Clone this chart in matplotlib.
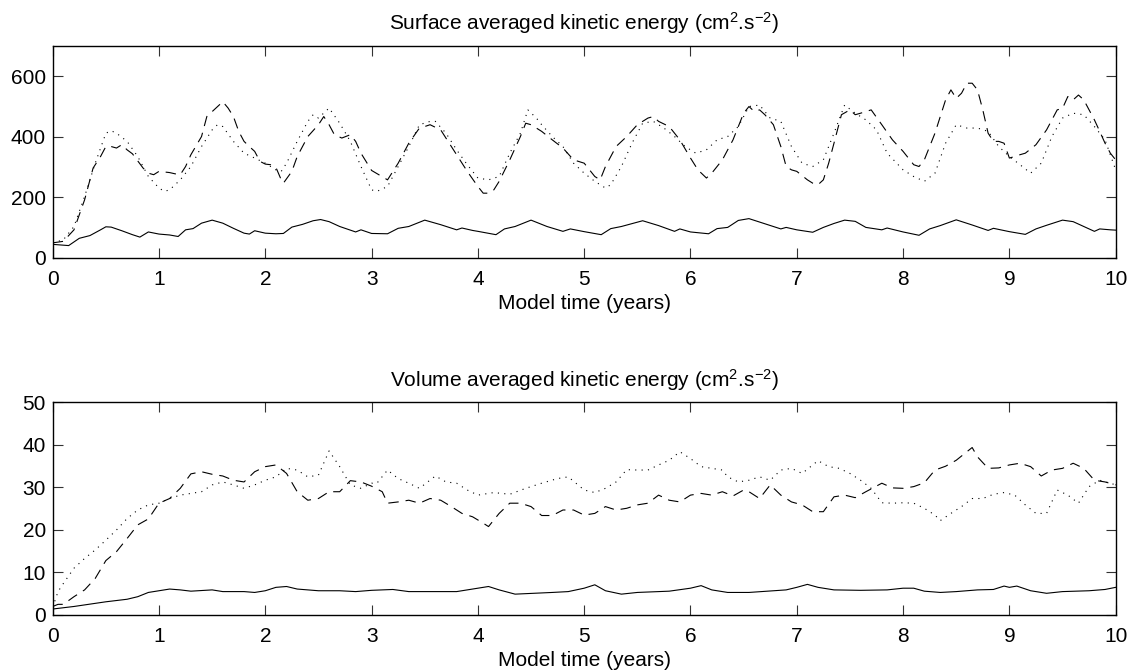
import matplotlib
matplotlib.use("Agg")
import matplotlib.pyplot as plt

# Surface averaged kinetic energy
surf_solid_t = [0, 0.15, 0.25, 0.35, 0.45, 0.5, 0.55, 0.65, 0.75, 0.82, 0.9, 1.0, 1.1, 1.18, 1.25, 1.32,
                1.4, 1.5, 1.6, 1.7, 1.8, 1.85, 1.9, 2.0, 2.1, 2.17, 2.25, 2.35, 2.45, 2.52, 2.6, 2.7,
                2.8, 2.85, 2.9, 3.0, 3.15, 3.25, 3.35, 3.5, 3.65, 3.8, 3.85, 3.95, 4.0, 4.17, 4.25,
                4.35, 4.5, 4.65, 4.8, 4.87, 5.0, 5.16, 5.25, 5.35, 5.55, 5.7, 5.85, 5.9, 6.0, 6.17,
                6.25, 6.35, 6.45, 6.55, 6.7, 6.85, 6.9, 7.0, 7.15, 7.25, 7.35, 7.45, 7.55, 7.65, 7.8,
                7.85, 8.0, 8.15, 8.25, 8.35, 8.5, 8.65, 8.8, 8.85, 9.0, 9.15, 9.25, 9.35, 9.5, 9.6,
                9.7, 9.8, 9.85, 9.95, 10.0]
surf_solid = [45, 41, 65, 74, 93, 103, 102, 90, 77, 69, 86, 79, 76, 71, 93, 97,
              115, 125, 115, 98, 82, 79, 90, 82, 80, 81, 102, 111, 123, 127, 120, 104,
              92, 86, 93, 81, 80, 98, 104, 125, 110, 93, 99, 91, 88, 77, 96,
              104, 125, 104, 88, 96, 87, 77, 97, 104, 123, 107, 88, 96, 86, 80,
              97, 101, 124, 130, 113, 96, 101, 93, 85, 101, 114, 125, 121, 101, 93,
              99, 86, 75, 96, 107, 126, 109, 91, 98, 87, 78, 96, 108, 125, 120,
              104, 88, 96, 93, 92]

surf_dash_t = [0, 0.1, 0.2, 0.3, 0.38, 0.45, 0.5, 0.55, 0.6, 0.65, 0.7, 0.75, 0.85, 0.9, 0.95, 1.0,
               1.1, 1.15, 1.2, 1.25, 1.3, 1.4, 1.45, 1.55, 1.6, 1.65, 1.7, 1.75, 1.8, 1.85, 1.9,
               1.95, 2.0, 2.05, 2.1, 2.15, 2.17, 2.25, 2.3, 2.4, 2.5, 2.55, 2.6, 2.65, 2.72, 2.8,
               2.85, 2.9, 3.0, 3.15, 3.25, 3.35, 3.45, 3.5, 3.55, 3.65, 3.75, 3.82, 3.9, 4.0, 4.05,
               4.1, 4.15, 4.2, 4.3, 4.4, 4.45, 4.5, 4.55, 4.6, 4.7, 4.8, 4.9, 5.0, 5.1, 5.15, 5.2,
               5.3, 5.4, 5.5, 5.6, 5.65, 5.7, 5.8, 5.9, 6.0, 6.07, 6.15, 6.2, 6.3, 6.4, 6.5, 6.55,
               6.6, 6.65, 6.7, 6.78, 6.85, 6.9, 6.95, 7.0, 7.1, 7.15, 7.2, 7.25, 7.3, 7.35, 7.42,
               7.5, 7.55, 7.6, 7.7, 7.8, 7.9, 8.0, 8.1, 8.15, 8.2, 8.3, 8.4, 8.45, 8.5, 8.55, 8.6,
               8.65, 8.7, 8.75, 8.8, 8.85, 8.9, 8.95, 9.0, 9.05, 9.1, 9.15, 9.25, 9.35, 9.45, 9.5,
               9.55, 9.6, 9.65, 9.7, 9.75, 9.8, 9.85, 9.9, 9.95, 10.0]
surf_dash = [50, 55, 93, 192, 297, 335, 368, 368, 363, 374, 357, 344, 297, 280, 275, 286,
             282, 278, 275, 302, 341, 401, 467, 500, 516, 495, 467, 418, 385, 368, 352,
             319, 310, 308, 299, 258, 247, 286, 335, 401, 440, 467, 440, 407, 396, 407,
             385, 346, 289, 258, 313, 379, 429, 434, 440, 423, 368, 330, 286, 236, 214,
             214, 225, 253, 324, 401, 445, 440, 429, 418, 390, 363, 324, 313, 269, 258, 302,
             368, 401, 440, 462, 467, 451, 434, 390, 330, 291, 264, 280, 324, 390, 478, 500,
             484, 489, 473, 440, 368, 302, 291, 286, 258, 247, 242, 258, 313, 379, 473,
             489, 473, 478, 489, 440, 390, 352, 308, 302, 324, 412, 522, 555, 527, 544, 577,
             577, 555, 489, 412, 385, 385, 379, 330, 335, 341, 346, 374, 423, 489, 494,
             533, 522, 538, 522, 489, 456, 418, 379, 346, 324]

surf_dot_t = [0, 0.1, 0.2, 0.3, 0.4, 0.5, 0.55, 0.6, 0.7, 0.8, 0.9, 1.0, 1.05, 1.1, 1.2, 1.3, 1.4,
              1.5, 1.55, 1.6, 1.7, 1.8, 1.9, 2.0, 2.1, 2.15, 2.2, 2.3, 2.4, 2.45, 2.5, 2.6, 2.7,
              2.8, 2.9, 3.0, 3.05, 3.15, 3.25, 3.35, 3.45, 3.55, 3.6, 3.7, 3.8, 3.9, 4.0, 4.1,
              4.2, 4.3, 4.4, 4.47, 4.55, 4.6, 4.7, 4.8, 4.9, 5.0, 5.1, 5.2, 5.25, 5.35, 5.45,
              5.55, 5.65, 5.75, 5.85, 5.95, 6.05, 6.15, 6.25, 6.35, 6.45, 6.55, 6.65, 6.75, 6.85,
              6.95, 7.05, 7.15, 7.25, 7.35, 7.45, 7.55, 7.65, 7.75, 7.85, 8.0, 8.1, 8.2, 8.3,
              8.4, 8.5, 8.6, 8.7, 8.8, 8.9, 9.0, 9.1, 9.2, 9.3, 9.4, 9.5, 9.6, 9.7, 9.8, 9.9, 10.0]
surf_dot = [50, 60, 104, 203, 313, 412, 420, 412, 385, 335, 269, 231, 220, 225, 258, 302, 368,
            423, 440, 434, 385, 346, 330, 313, 291, 286, 313, 385, 451, 473, 462, 495, 445,
            385, 302, 225, 220, 236, 302, 368, 440, 451, 451, 412, 357, 308, 264, 258,
            269, 346, 412, 489, 462, 440, 401, 368, 313, 280, 253, 231, 242, 302, 379,
            445, 451, 429, 401, 368, 346, 357, 390, 401, 434, 500, 505, 462, 451,
            368, 313, 302, 324, 412, 505, 478, 456, 423, 346, 291, 269, 253, 280,
            379, 440, 429, 429, 418, 368, 335, 308, 280, 313, 401, 462, 478, 473, 434, 390, 291]

# Volume averaged kinetic energy
vol_solid_t = [0, 0.2, 0.5, 0.7, 0.8, 0.9, 1.0, 1.1, 1.2, 1.3, 1.5, 1.6, 1.8, 1.9, 2.0, 2.1, 2.2,
               2.3, 2.5, 2.7, 2.85, 3.0, 3.2, 3.35, 3.8, 3.95, 4.1, 4.2, 4.35, 4.7, 4.85, 5.0, 5.1,
               5.2, 5.35, 5.5, 5.8, 6.0, 6.1, 6.2, 6.35, 6.55, 6.9, 7.0, 7.1, 7.2, 7.35, 7.6, 7.85,
               8.0, 8.1, 8.2, 8.35, 8.5, 8.7, 8.85, 8.95, 9.0, 9.07, 9.2, 9.35, 9.5, 9.75, 9.9, 10.0]
vol_solid = [1.4, 2.0, 3.1, 3.7, 4.3, 5.3, 5.7, 6.1, 5.9, 5.6, 5.9, 5.5, 5.5, 5.3, 5.7, 6.5, 6.7,
             6.1, 5.7, 5.7, 5.5, 5.8, 6.0, 5.5, 5.5, 6.1, 6.7, 5.9, 4.9, 5.3, 5.5, 6.3, 7.1,
             5.7, 4.9, 5.3, 5.6, 6.3, 6.9, 5.9, 5.3, 5.3, 5.9, 6.5, 7.2, 6.5, 5.9, 5.8, 5.9,
             6.3, 6.3, 5.6, 5.3, 5.5, 5.9, 6.0, 6.8, 6.5, 6.8, 5.7, 5.1, 5.5, 5.7, 6.0, 6.5]

vol_dash_t = [0, 0.05, 0.1, 0.2, 0.3, 0.4, 0.5, 0.6, 0.7, 0.8, 0.9, 1.0, 1.1, 1.2, 1.3, 1.4, 1.5,
              1.6, 1.7, 1.8, 1.9, 2.0, 2.1, 2.2, 2.3, 2.4, 2.5, 2.6, 2.7, 2.8, 2.9, 3.0, 3.1, 3.15,
              3.25, 3.35, 3.45, 3.55, 3.65, 3.75, 3.85, 3.95, 4.05, 4.1, 4.2, 4.3, 4.4, 4.5, 4.6,
              4.7, 4.8, 4.9, 5.0, 5.1, 5.2, 5.3, 5.4, 5.5, 5.6, 5.7, 5.8, 5.9, 6.0, 6.1, 6.2, 6.3,
              6.4, 6.5, 6.55, 6.65, 6.75, 6.85, 6.95, 7.05, 7.15, 7.25, 7.35, 7.45, 7.55, 7.65,
              7.8, 7.9, 8.0, 8.1, 8.2, 8.3, 8.4, 8.5, 8.6, 8.65, 8.7, 8.8, 8.9, 9.0, 9.1, 9.2,
              9.3, 9.4, 9.5, 9.6, 9.7, 9.8, 9.9, 10.0]
vol_dash = [2.0, 2.5, 2.5, 4.3, 5.9, 8.6, 12.8, 14.9, 18.0, 21.2, 22.6, 26.3, 27.4, 29.8, 33.2, 33.7, 33.1,
            32.7, 31.7, 31.3, 33.7, 34.9, 35.3, 33.3, 29.0, 27.0, 27.4, 29.0, 29.0, 31.6, 31.3, 30.3, 29.0, 26.3,
            26.6, 27.0, 26.3, 27.4, 27.0, 25.5, 23.9, 23.1, 21.6, 20.8, 23.9, 26.3, 26.3, 25.5, 23.4,
            23.4, 24.7, 24.7, 23.5, 23.9, 25.5, 24.7, 25.1, 25.9, 26.3, 28.2, 27.0, 26.6, 28.2, 28.6, 28.2, 29.0,
            28.0, 29.4, 29.0, 27.4, 30.6, 28.2, 26.6, 25.9, 24.3, 24.3, 27.8, 28.2, 27.6, 29.0,
            31.0, 29.9, 29.8, 30.2, 31.1, 34.1, 35.0, 36.4, 38.4, 39.4, 37.2, 34.5, 34.6, 35.3, 35.7, 34.9,
            32.7, 34.1, 34.5, 35.7, 34.5, 31.7, 31.3, 30.6]

vol_dot_t = [0, 0.05, 0.1, 0.2, 0.3, 0.4, 0.5, 0.6, 0.7, 0.8, 0.9, 1.0, 1.1, 1.2, 1.3, 1.4, 1.5,
             1.6, 1.7, 1.8, 1.9, 2.0, 2.1, 2.2, 2.3, 2.4, 2.5, 2.6, 2.7, 2.8, 2.9, 3.0, 3.05, 3.15,
             3.25, 3.35, 3.45, 3.6, 3.7, 3.8, 3.9, 4.0, 4.15, 4.3, 4.45, 4.6, 4.75, 4.85, 5.0, 5.1,
             5.2, 5.3, 5.4, 5.5, 5.6, 5.7, 5.8, 5.9, 6.0, 6.1, 6.2, 6.3, 6.35, 6.45, 6.55, 6.65,
             6.75, 6.85, 6.95, 7.05, 7.15, 7.2, 7.3, 7.4, 7.5, 7.6, 7.7, 7.8, 7.9, 8.0, 8.1, 8.2,
             8.3, 8.35, 8.45, 8.55, 8.65, 8.75, 8.85, 8.95, 9.05, 9.15, 9.25, 9.35, 9.45, 9.55,
             9.65, 9.75, 9.85, 9.95, 10.0]
vol_dot = [1.8, 5.5, 7.4, 11.0, 13.3, 15.3, 17.6, 20.0, 22.7, 24.7, 25.9, 26.3, 27.4, 28.2, 28.6, 29.0, 30.6,
           31.3, 30.6, 29.8, 30.6, 31.7, 32.5, 34.5, 34.1, 32.5, 32.9, 38.6, 34.9, 30.6, 29.8, 31.0, 31.0, 34.1,
           32.1, 31.0, 29.8, 32.7, 31.3, 31.0, 29.4, 28.2, 28.8, 28.4, 29.8, 31.0, 32.1, 32.5, 29.4, 28.8,
           29.8, 31.3, 34.2, 34.1, 34.1, 35.3, 36.4, 38.4, 36.8, 34.9, 34.5, 34.1, 32.5, 31.3, 31.7, 32.5,
           31.7, 34.1, 34.5, 33.3, 35.3, 36.3, 34.9, 34.5, 33.3, 31.7, 29.8, 26.4, 26.3, 26.4, 26.3, 25.1,
           23.5, 22.2, 23.9, 25.5, 27.4, 27.4, 28.4, 28.8, 28.2, 25.9, 23.9, 23.9, 29.4, 28.2,
           26.3, 30.2, 31.7, 31.0, 30.6]

x_ticks = list(range(0, 11))
surf_yticks = [0, 200, 400, 600]
vol_yticks = [0, 10, 20, 30, 40, 50]

plt.rcParams['font.family'] = ['Liberation Sans', 'DejaVu Sans']
plt.rcParams['mathtext.fontset'] = 'custom'
plt.rcParams['mathtext.rm'] = 'Liberation Sans'
plt.rcParams['mathtext.it'] = 'Liberation Sans:italic'
plt.rcParams['lines.scale_dashes'] = False

fig = plt.figure(figsize=(11.36, 6.71), dpi=100)
ax1 = fig.add_axes([0.0464, 0.6155, 0.9357, 0.316])
ax2 = fig.add_axes([0.0464, 0.0835, 0.9357, 0.3167])

dash_style = (0, (7.5, 5))
dot_style = (0, (0.8, 3.8))
fsize = 15


def style_axes(ax, ylim, yticks, title):
  ax.set_xlim(0, 10)
  ax.set_ylim(*ylim)
  ax.set_xticks(x_ticks)
  ax.set_yticks(yticks)
  ax.tick_params(direction='in', length=7, width=0.8, top=True, right=True,
                 labelsize=fsize, color='#333333')
  ax.tick_params(axis='x', pad=9)
  ax.tick_params(axis='y', pad=5)
  for s in ax.spines.values():
    s.set_linewidth(1.0)
  ax.set_xlabel('Model time (years)', fontsize=fsize, labelpad=3)
  ax.set_title(title, fontsize=fsize, pad=11.5)


ax1.plot(surf_solid_t, surf_solid, color='black', lw=0.8)
ax1.plot(surf_dash_t, surf_dash, color='black', lw=0.8, linestyle=dash_style)
ax1.plot(surf_dot_t, surf_dot, color='black', lw=0.8, linestyle=dot_style)
style_axes(ax1, (0, 700), surf_yticks, 'Surface averaged kinetic energy (cm$^2$.s$^{-2}$)')

ax2.plot(vol_solid_t, vol_solid, color='black', lw=0.8)
ax2.plot(vol_dash_t, vol_dash, color='black', lw=0.8, linestyle=dash_style)
ax2.plot(vol_dot_t, vol_dot, color='black', lw=0.8, linestyle=dot_style)
style_axes(ax2, (0, 50), vol_yticks, 'Volume averaged kinetic energy (cm$^2$.s$^{-2}$)')

fig.savefig('out.png', dpi=100)
